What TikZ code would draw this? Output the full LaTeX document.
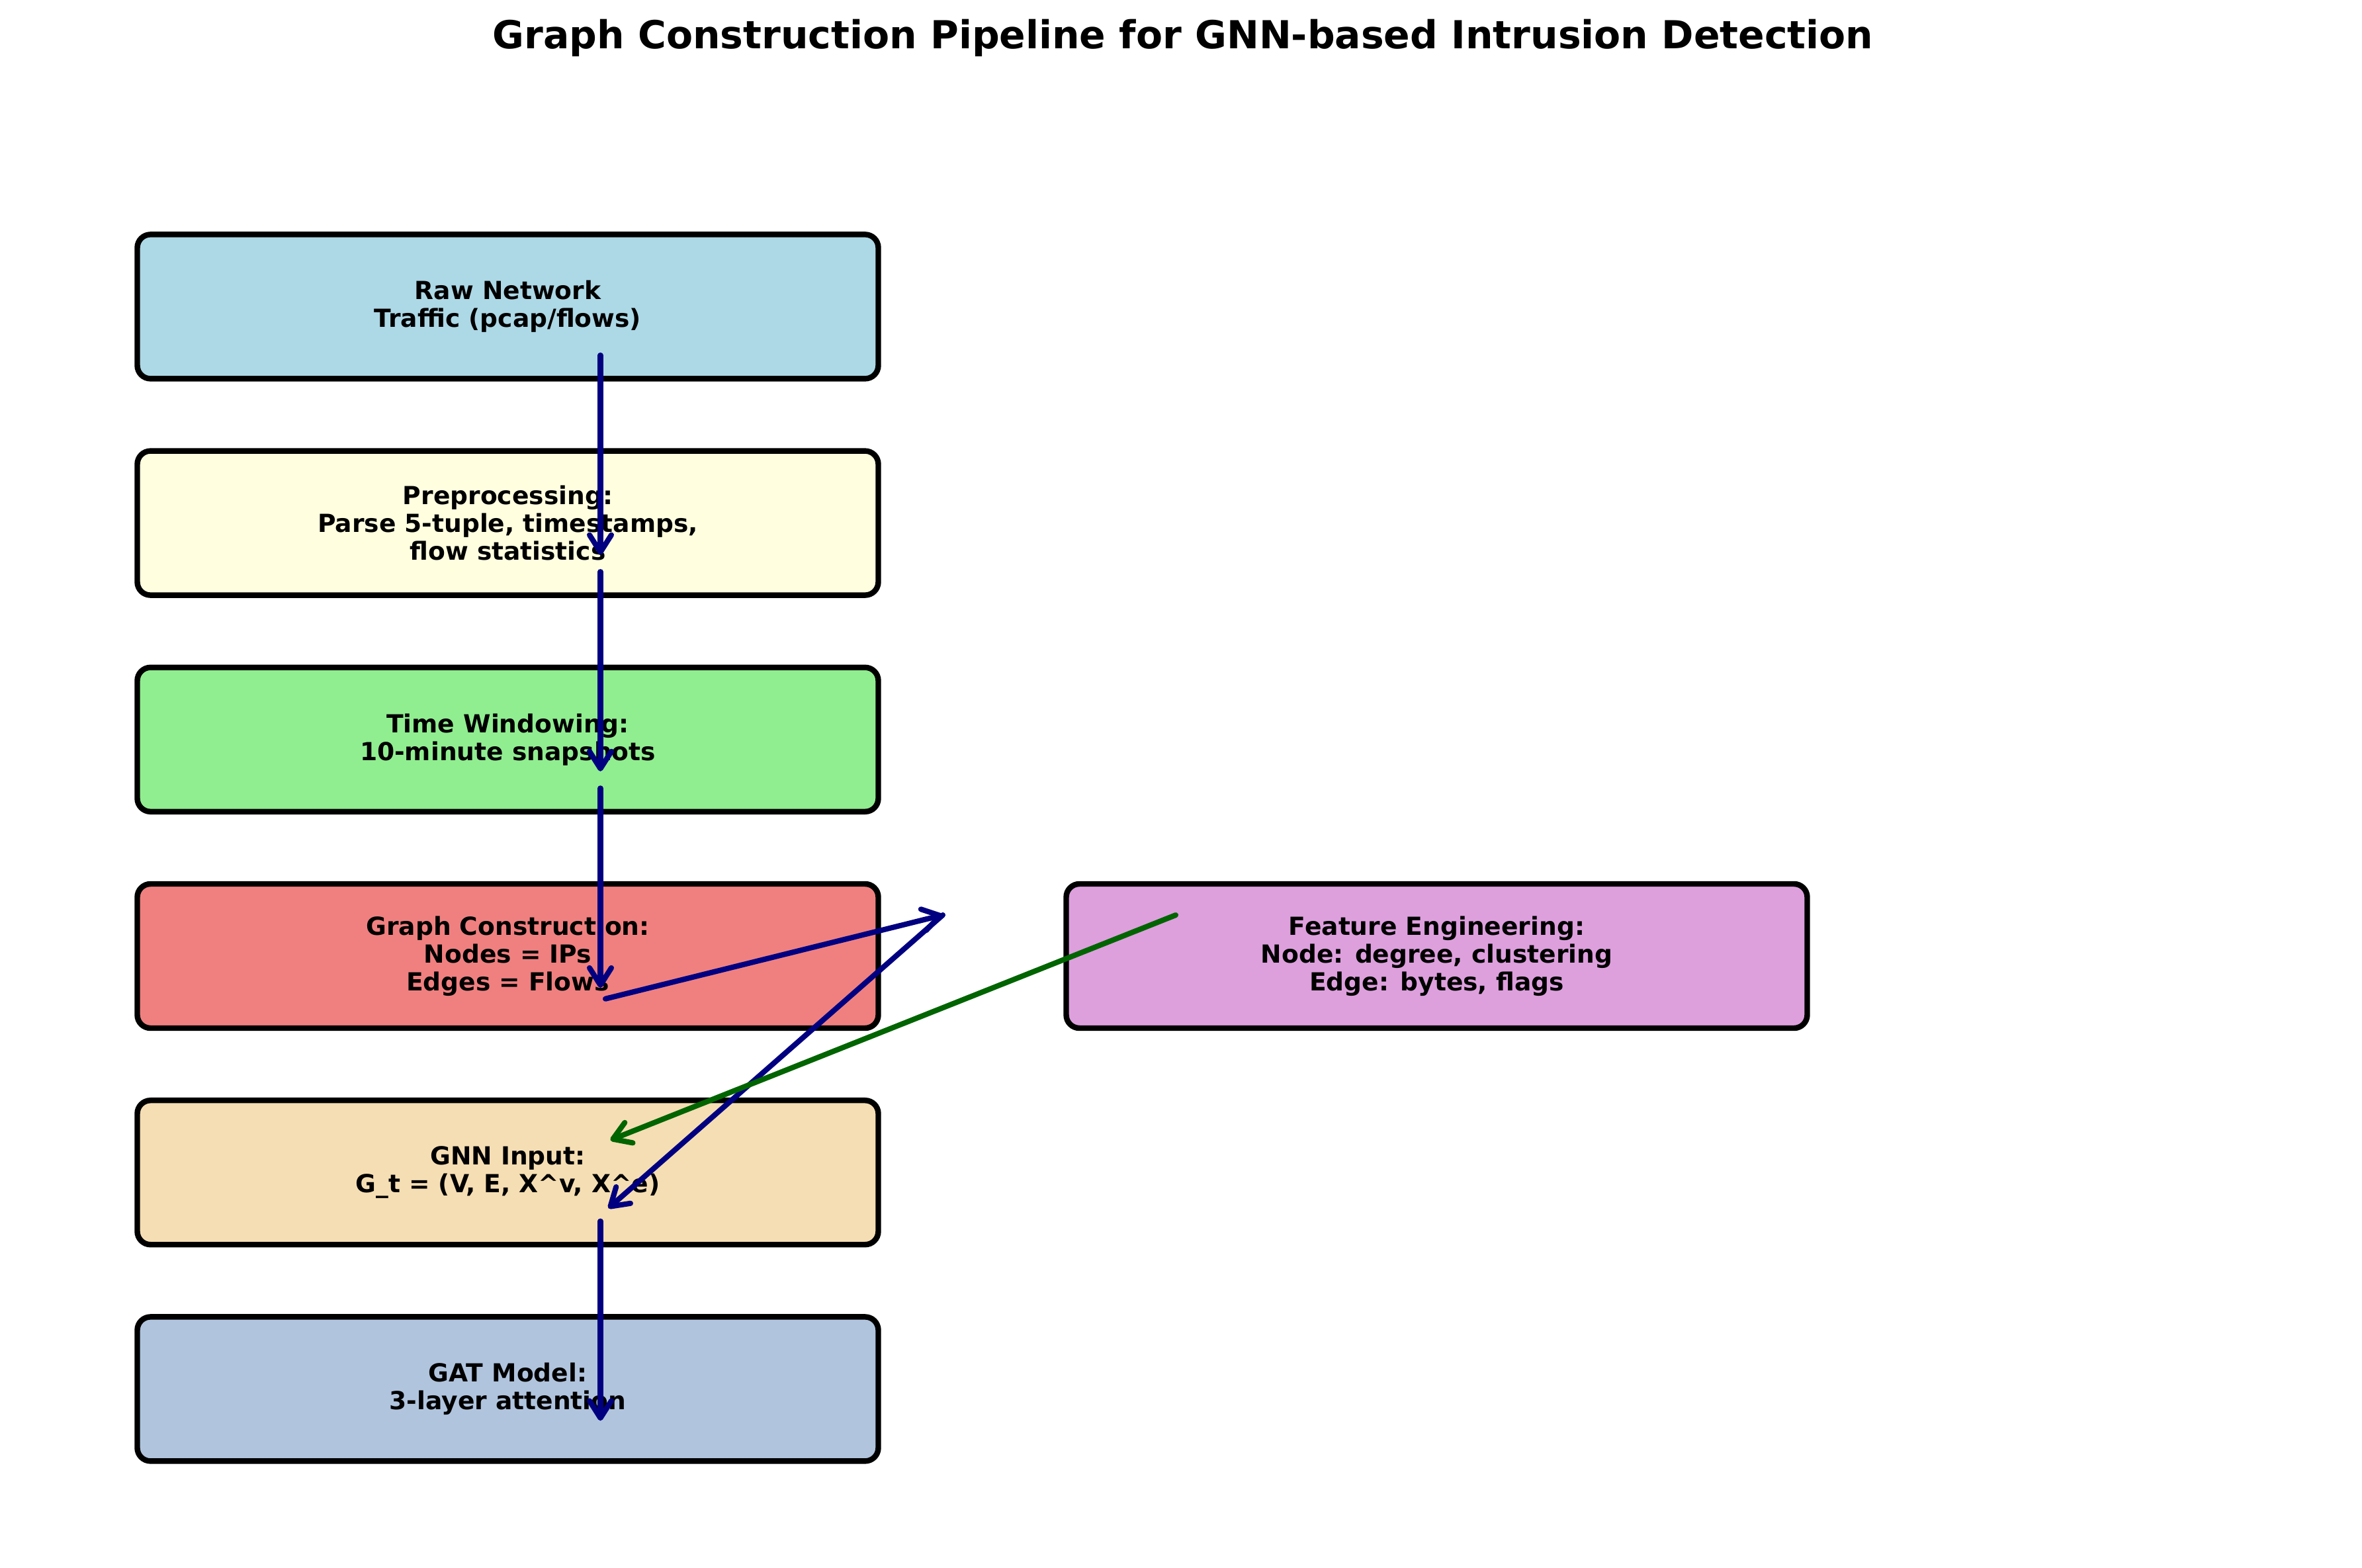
\documentclass[tikz,border=0pt]{standalone}
\usepackage{fontspec}
\setmainfont{DejaVu Sans}
\usepackage{tikz}
\usetikzlibrary{arrows.meta}
\definecolor{rawblue}{HTML}{ADD8E6}
\definecolor{prepyellow}{HTML}{FFFFE0}
\definecolor{windowgreen}{HTML}{90EE90}
\definecolor{graphcoral}{HTML}{F08080}
\definecolor{featplum}{HTML}{DDA0DD}
\definecolor{gnnwheat}{HTML}{F5DEB3}
\definecolor{gatsteel}{HTML}{B0C4DE}
\definecolor{flownavy}{HTML}{000080}
\definecolor{featgreen}{HTML}{006400}
\newcommand\stagefont{\bfseries\fontsize{10.7pt}{11.9pt}\selectfont}
\tikzstyle{stage} = [rectangle, rounded corners=0.2cm, 
minimum width=11.2cm, 
minimum height=2.18cm, 
text centered, align=center, 
draw=black, line width=2.4pt, 
font=\stagefont]
\tikzstyle{arrow} = [line width=2.3pt, line cap=round, 
-{Straight Barb[length=2.6mm, width=3.3mm, round]}, 
draw=flownavy]

\begin{document}
\begin{tikzpicture}[node distance=3.272cm]

    \useasboundingbox (0,0) rectangle (35.7,-23.7);

    \node (title) [anchor=base, font=\bfseries\fontsize{16.6pt}{20pt}\selectfont] at (17.88,-0.74) {Graph Construction Pipeline for GNN-based Intrusion Detection};

    \node (raw) [stage, fill=rawblue] at (7.675,-4.634) {Raw Network\\Traffic (pcap/flows)};
    \node (prep) [stage, fill=prepyellow, below of=raw] {Preprocessing:\\Parse 5-tuple, timestamps,\\flow statistics};
    \node (window) [stage, fill=windowgreen, below of=prep] {Time Windowing:\\10-minute snapshots};
    \node (graph) [stage, fill=graphcoral, below of=window] {Graph Construction:\\Nodes = IPs\\Edges = Flows};
    \node (feat) [stage, fill=featplum, right of=graph, node distance=14.04cm] {Feature Engineering:\\Node: degree, clustering\\Edge: bytes, flags};
    \node (gnn) [stage, fill=gnnwheat, below of=graph] {GNN Input:\\G\_t = (V, E, X\textasciicircum v, X\textasciicircum e)};
    \node (gat) [stage, fill=gatsteel, below of=gnn] {GAT Model:\\3-layer attention};

    \coordinate (hub) at (14.25,-13.83);

    % main flow
    \draw [arrow] ([shift={(1.40,-0.735)}]raw.center) -- ([shift={(1.40,-0.48)}]prep.center);
    \draw [arrow] ([shift={(1.40,-0.735)}]prep.center) -- ([shift={(1.40,-0.48)}]window.center);
    \draw [arrow] ([shift={(1.40,-0.735)}]window.center) -- ([shift={(1.40,-0.48)}]graph.center);
    \draw [arrow] ([shift={(1.475,-0.647)}]graph.center) -- (hub);
    \draw [arrow] (hub) -- ([shift={(1.52,-0.54)}]gnn.center);
    \draw [arrow] ([shift={(1.40,-0.735)}]gnn.center) -- ([shift={(1.40,-0.48)}]gat.center);

    % features
    \draw [arrow, draw=featgreen] ([shift={(-3.945,0.619)}]feat.center) -- ([shift={(1.55,0.49)}]gnn.center);

\end{tikzpicture}
\end{document}
